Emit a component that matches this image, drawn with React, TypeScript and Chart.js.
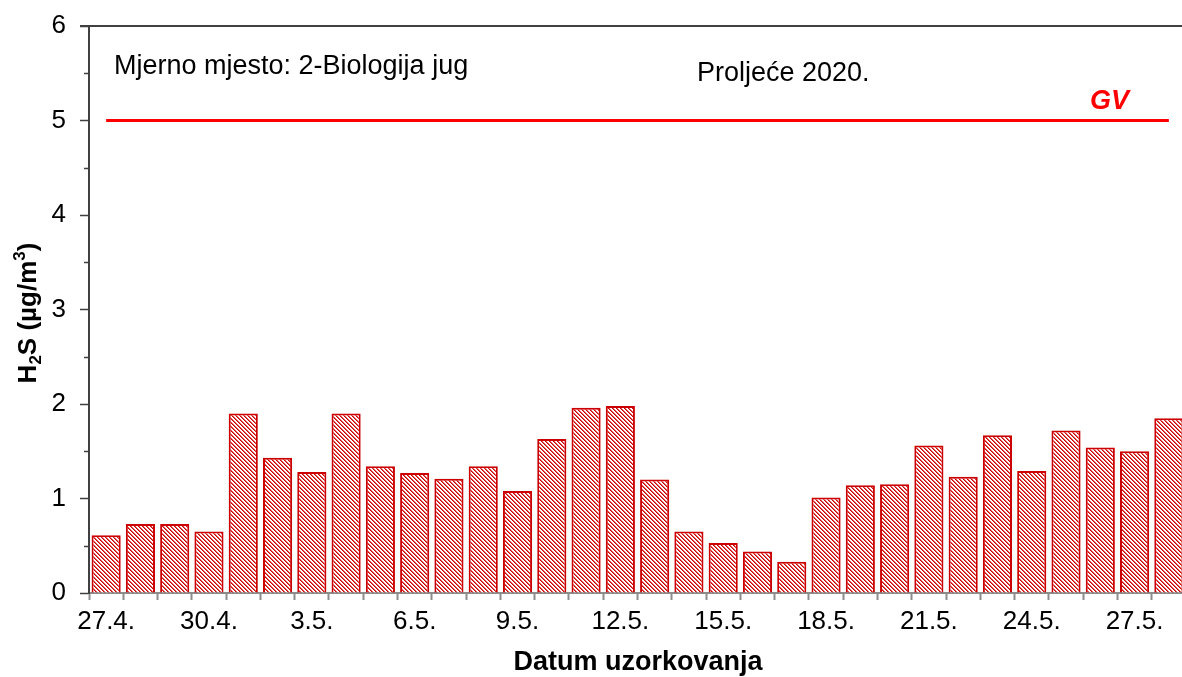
import React, { useEffect, useRef } from 'react';
import { Chart, registerables } from 'chart.js';

Chart.register(...registerables);

const categories = [
  '27.4.', '28.4.', '29.4.', '30.4.', '1.5.', '2.5.', '3.5.', '4.5.', '5.5.', '6.5.',
  '7.5.', '8.5.', '9.5.', '10.5.', '11.5.', '12.5.', '13.5.', '14.5.', '15.5.', '16.5.',
  '17.5.', '18.5.', '19.5.', '20.5.', '21.5.', '22.5.', '23.5.', '24.5.', '25.5.', '26.5.',
  '27.5.', '28.5.',
];
const h2sValues = [
  0.61, 0.73, 0.73, 0.65, 1.9, 1.43, 1.28, 1.9, 1.34, 1.27,
  1.21, 1.34, 1.08, 1.63, 1.96, 1.98, 1.2, 0.65, 0.53, 0.44,
  0.33, 1.01, 1.14, 1.15, 1.56, 1.23, 1.67, 1.29, 1.72, 1.54,
  1.5, 1.85,
];
const gvLimit = 5;
const gvValues = categories.map(() => gvLimit);
const yMin = 0;
const yMax = 6;
const yMinorTicks = [0.5, 1.5, 2.5, 3.5, 4.5, 5.5];
const stationText = 'Mjerno mjesto: 2-Biologija jug';
const seasonText = 'Proljeće 2020.';
const gvText = 'GV';
const xTitle = 'Datum uzorkovanja';

const FONT = "'Liberation Sans', Arial, sans-serif";
const BAR_RED = '#cc0000';

function makePattern(): CanvasPattern | string {
  const c = document.createElement('canvas');
  c.width = 4;
  c.height = 4;
  const g = c.getContext('2d');
  if (!g) return BAR_RED;
  g.fillStyle = '#ffffff';
  g.fillRect(0, 0, 4, 4);
  for (let y = 0; y < 4; y++) {
    g.fillStyle = BAR_RED;
    g.fillRect(y % 4, y, 1, 1);
    g.fillStyle = '#e05a5a';
    g.fillRect((y + 1) % 4, y, 1, 1);
  }
  const ctx = document.createElement('canvas').getContext('2d');
  const p = ctx ? ctx.createPattern(c, 'repeat') : null;
  return p || BAR_RED;
}

const decorPlugin = {
  id: 'decor',
  afterDraw(chart: any) {
    const { ctx, chartArea, scales } = chart;
    const ys = scales.y;
    ctx.save();
    // top frame line
    ctx.strokeStyle = '#404040';
    ctx.lineWidth = 2;
    ctx.beginPath();
    ctx.moveTo(chartArea.left - 9, chartArea.top);
    ctx.lineTo(chart.width, chartArea.top);
    ctx.stroke();
    // minor y ticks
    ctx.lineWidth = 1.5;
    yMinorTicks.forEach((v) => {
      const py = Math.round(ys.getPixelForValue(v)) + 0.5;
      ctx.beginPath();
      ctx.moveTo(chartArea.left - 5, py);
      ctx.lineTo(chartArea.left, py);
      ctx.stroke();
    });
    // annotations
    ctx.fillStyle = '#000000';
    ctx.textBaseline = 'alphabetic';
    ctx.textAlign = 'left';
    ctx.font = `27px ${FONT}`;
    ctx.fillText(stationText, 114, 74);
    ctx.fillText(seasonText, 697, 81);
    ctx.fillStyle = '#ff0000';
    ctx.font = `italic bold 27px ${FONT}`;
    ctx.fillText(gvText, 1090, 109);
    // x title
    ctx.fillStyle = '#000000';
    ctx.font = `bold 27px ${FONT}`;
    ctx.textAlign = 'center';
    ctx.fillText(xTitle, 638, 670);
    // y title with sub/superscript
    const big = `bold 26px ${FONT}`;
    const small = `bold 17px ${FONT}`;
    const parts = [
      { t: 'H', f: big, dy: 0 },
      { t: '2', f: small, dy: 5 },
      { t: 'S (µg/m', f: big, dy: 0 },
      { t: '3', f: small, dy: -11 },
      { t: ')', f: big, dy: 0 },
    ];
    let total = 0;
    const widths = parts.map((p) => {
      ctx.font = p.f;
      const w = ctx.measureText(p.t).width;
      total += w;
      return w;
    });
    ctx.translate(36, 313);
    ctx.rotate(-Math.PI / 2);
    ctx.textAlign = 'left';
    let x = -total / 2;
    parts.forEach((p, i) => {
      ctx.font = p.f;
      ctx.fillText(p.t, x, p.dy);
      x += widths[i];
    });
    ctx.restore();
  },
};

export default function App() {
  const ref = useRef<HTMLCanvasElement | null>(null);
  useEffect(() => {
    if (!ref.current) return;
    const pattern = makePattern();
    const chart = new Chart(ref.current, {
      type: 'bar',
      data: {
        labels: categories,
        datasets: [
          {
            type: 'line',
            label: 'GV',
            data: gvValues,
            borderColor: '#ff0000',
            borderWidth: 3,
            pointRadius: 0,
            fill: false,
            order: 0,
          } as any,
          {
            type: 'bar',
            label: 'H2S',
            data: h2sValues,
            backgroundColor: pattern as any,
            borderColor: BAR_RED,
            borderWidth: 2,
            barPercentage: 0.85,
            categoryPercentage: 1,
            order: 1,
          },
        ],
      },
      options: {
        responsive: false,
        animation: false,
        devicePixelRatio: 1,
        layout: { padding: { left: 0, right: 14, top: 26, bottom: 0 } },
        plugins: { legend: { display: false }, tooltip: { enabled: false }, title: { display: false } },
        scales: {
          x: {
            grid: {
              drawOnChartArea: false,
              drawTicks: true,
              tickLength: 7,
              tickColor: '#8c8c8c',
              tickWidth: 2,
              offset: true,
            },
            border: { display: true, color: '#8c8c8c', width: 2 },
            ticks: {
              autoSkip: false,
              maxRotation: 0,
              minRotation: 0,
              padding: 6,
              color: '#000000',
              font: { family: FONT, size: 26 },
              callback: (_v: any, i: number) => (i % 3 === 0 ? categories[i] : ''),
            },
            afterFit: (s: any) => {
              s.height = 84;
              s.paddingLeft = 0;
              s.paddingRight = 0;
            },
          },
          y: {
            min: yMin,
            max: yMax,
            grid: {
              drawOnChartArea: false,
              drawTicks: true,
              tickLength: 9,
              tickWidth: 1.5,
              tickColor: (c: any) =>
                c.tick && Number.isInteger(c.tick.value) ? '#404040' : 'rgba(0,0,0,0)',
            },
            border: { display: true, color: '#404040', width: 2 },
            ticks: {
              stepSize: 0.5,
              padding: 14,
              color: '#000000',
              font: { family: FONT, size: 26 },
              callback: (v: any) => (Number.isInteger(v) ? String(v) : ''),
            },
            afterFit: (s: any) => {
              s.width = 89;
              s.paddingTop = 0;
              s.paddingBottom = 0;
            },
          },
        },
      },
      plugins: [decorPlugin],
    });
    return () => chart.destroy();
  }, []);
  return (
    <div
      style={{
        position: 'absolute',
        left: 0,
        top: 0,
        width: 1182,
        height: 677,
        overflow: 'hidden',
        background: '#ffffff',
      }}
    >
      <canvas ref={ref} width={1200} height={677} style={{ display: 'block' }} />
    </div>
  );
}
